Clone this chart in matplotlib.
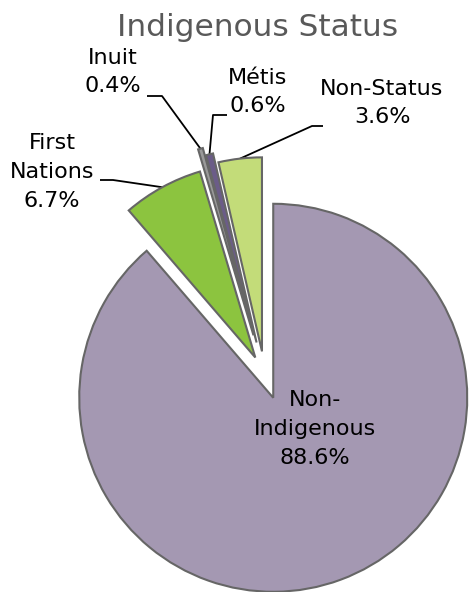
import matplotlib
matplotlib.use("Agg")
import matplotlib.pyplot as plt
import numpy as np

# ---- data ----
categories = ["Non-\nIndigenous", "First\nNations", "Inuit", "Métis", "Non-Status"]
values = [88.6, 6.7, 0.4, 0.6, 3.6]
colors = ["#A498B2", "#8CC43F", "#9A9A9A", "#6B5C88", "#C3DC79"]
explode = [0.128, 0.10, 0.21, 0.17, 0.12]
title = "Indigenous Status"

W, H = 470, 592
fig = plt.figure(figsize=(W / 100, H / 100), dpi=100)
ax = fig.add_axes([0, 0, 1, 1])

def Y(y):
    return H - y

R = 194
wedges, _ = ax.pie(values, colors=colors, explode=[e * R for e in explode],
                   startangle=90, counterclock=False, radius=R,
                   center=(264.6, Y(374.5)),
                   wedgeprops=dict(edgecolor="#666666", linewidth=1.5),
                   frame=True)
ax.set_xlim(0, W)
ax.set_ylim(0, H)
ax.set_aspect("equal")
ax.axis("off")

ax.text(258, Y(27), title, ha="center", va="center", fontsize=22.5,
        color="#595959", family="DejaVu Sans")

fs = 16
# label text positions (layout) and elbow points
labels_layout = {
    0: dict(pos=(315, 429), elbow=None),
    1: dict(pos=(52, 172), elbow=[(100, 180), (113, 180)]),
    2: dict(pos=(113, 72), elbow=[(147, 96), (162, 96)]),
    3: dict(pos=(258, 92), elbow=[(227, 115), (213, 115)]),
    4: dict(pos=(382, 103), elbow=[(323, 126), (312, 126)]),
}
for i, (w, name, v) in enumerate(zip(wedges, categories, values)):
    lay = labels_layout[i]
    x, y = lay["pos"]
    ax.text(x, Y(y), f"{name}\n{v:.1f}%", ha="center", va="center",
            fontsize=fs, color="black", linespacing=1.55, family="DejaVu Sans")
    if lay["elbow"] is not None:
        mid = np.deg2rad((w.theta1 + w.theta2) / 2)
        cx, cy = w.center
        ex, ey = cx + w.r * np.cos(mid), cy + w.r * np.sin(mid)
        (x0, y0), (x1, y1) = lay["elbow"]
        ax.plot([x0, x1, ex], [Y(y0), Y(y1), ey], color="black", lw=1.3,
                solid_capstyle="butt", zorder=0.5)

fig.savefig("out.png", dpi=100)
